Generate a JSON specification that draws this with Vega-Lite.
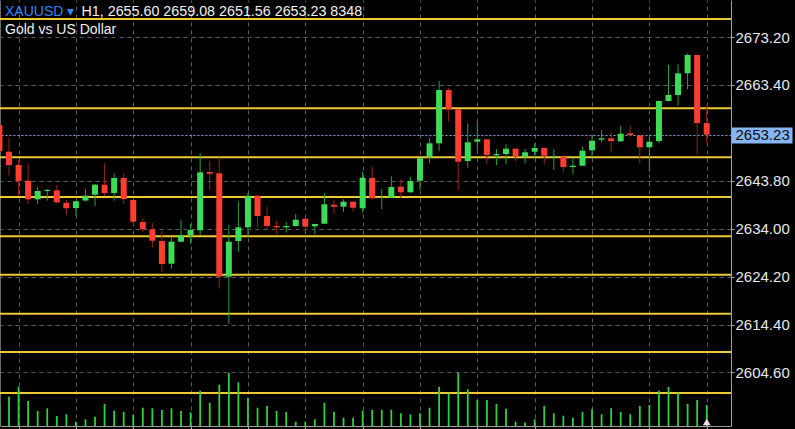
{
  "$schema": "https://vega.github.io/schema/vega-lite/v6.json",
  "width": 731,
  "height": 426,
  "autosize": {"type": "none"},
  "padding": {"left": 0, "top": 0, "right": 64, "bottom": 3},
  "background": "#000000",
  "config": {
    "view": {"stroke": null},
    "axis": {"labelFont": "Liberation Sans", "titleFont": "Liberation Sans"}
  },
  "title": {
    "text": "XAUUSD ▾",
    "subtitle": "Gold vs US Dollar",
    "anchor": "start",
    "frame": "group",
    "orient": "top",
    "font": "Liberation Sans",
    "fontSize": 14,
    "fontWeight": "normal",
    "color": "#2f86ff",
    "subtitleFont": "Liberation Sans",
    "subtitleFontSize": 14,
    "subtitleColor": "#f2f2f2",
    "subtitlePadding": 4,
    "offset": -37,
    "dx": 5
  },
  "datasets": {
    "levels": [
      {"p": 2676.88}, {"p": 2658.62}, {"p": 2648.60}, {"p": 2640.48}, {"p": 2632.44},
      {"p": 2624.59}, {"p": 2616.60}, {"p": 2608.77}, {"p": 2600.38}
    ],
    "candles": [
      {"i": 0, "o": 2655.20, "h": 2655.41, "l": 2649.07, "c": 2649.89, "v": 9000},
      {"i": 1, "o": 2649.74, "h": 2652.61, "l": 2644.98, "c": 2647.02, "v": 11650},
      {"i": 2, "o": 2647.02, "h": 2648.05, "l": 2640.89, "c": 2643.75, "v": 15620},
      {"i": 3, "o": 2643.81, "h": 2647.37, "l": 2639.05, "c": 2640.01, "v": 9940},
      {"i": 4, "o": 2640.01, "h": 2642.59, "l": 2639.05, "c": 2641.71, "v": 5960},
      {"i": 5, "o": 2641.71, "h": 2642.18, "l": 2639.72, "c": 2641.91, "v": 7040},
      {"i": 6, "o": 2641.85, "h": 2642.93, "l": 2639.19, "c": 2639.40, "v": 3980},
      {"i": 7, "o": 2639.31, "h": 2639.87, "l": 2636.80, "c": 2638.17, "v": 4650},
      {"i": 8, "o": 2638.23, "h": 2639.66, "l": 2636.59, "c": 2639.60, "v": 1710},
      {"i": 9, "o": 2639.76, "h": 2642.18, "l": 2639.56, "c": 2640.75, "v": 2660},
      {"i": 10, "o": 2640.95, "h": 2643.14, "l": 2638.64, "c": 2643.00, "v": 3700},
      {"i": 11, "o": 2643.00, "h": 2647.37, "l": 2640.75, "c": 2641.30, "v": 8750},
      {"i": 12, "o": 2641.30, "h": 2645.33, "l": 2639.72, "c": 2644.37, "v": 6080},
      {"i": 13, "o": 2644.37, "h": 2645.33, "l": 2639.05, "c": 2640.07, "v": 5570},
      {"i": 14, "o": 2639.87, "h": 2640.07, "l": 2634.55, "c": 2635.43, "v": 4490},
      {"i": 15, "o": 2635.37, "h": 2636.12, "l": 2633.38, "c": 2633.87, "v": 7270},
      {"i": 16, "o": 2633.87, "h": 2635.22, "l": 2630.19, "c": 2631.54, "v": 7040},
      {"i": 17, "o": 2631.48, "h": 2633.59, "l": 2625.20, "c": 2626.78, "v": 6360},
      {"i": 18, "o": 2626.84, "h": 2632.36, "l": 2625.82, "c": 2631.34, "v": 7040},
      {"i": 19, "o": 2631.34, "h": 2635.78, "l": 2631.28, "c": 2632.71, "v": 5960},
      {"i": 20, "o": 2632.71, "h": 2634.96, "l": 2630.87, "c": 2633.73, "v": 5450},
      {"i": 21, "o": 2633.67, "h": 2649.42, "l": 2632.71, "c": 2645.53, "v": 14030},
      {"i": 22, "o": 2645.59, "h": 2647.84, "l": 2641.91, "c": 2645.24, "v": 9260},
      {"i": 23, "o": 2645.33, "h": 2648.60, "l": 2621.81, "c": 2624.18, "v": 16420},
      {"i": 24, "o": 2624.18, "h": 2634.75, "l": 2614.51, "c": 2631.34, "v": 21070},
      {"i": 25, "o": 2631.48, "h": 2639.52, "l": 2629.29, "c": 2634.28, "v": 17370},
      {"i": 26, "o": 2634.28, "h": 2641.36, "l": 2632.36, "c": 2640.75, "v": 11250},
      {"i": 27, "o": 2640.75, "h": 2640.89, "l": 2634.28, "c": 2636.59, "v": 7270},
      {"i": 28, "o": 2636.59, "h": 2638.50, "l": 2633.73, "c": 2634.55, "v": 7950},
      {"i": 29, "o": 2634.55, "h": 2635.57, "l": 2632.91, "c": 2634.28, "v": 5960},
      {"i": 30, "o": 2634.28, "h": 2635.43, "l": 2633.18, "c": 2634.55, "v": 5570},
      {"i": 31, "o": 2634.55, "h": 2637.00, "l": 2634.45, "c": 2635.84, "v": 1710},
      {"i": 32, "o": 2636.04, "h": 2636.19, "l": 2633.38, "c": 2634.41, "v": 1710},
      {"i": 33, "o": 2634.49, "h": 2635.06, "l": 2632.85, "c": 2634.96, "v": 2660},
      {"i": 34, "o": 2635.02, "h": 2641.24, "l": 2634.96, "c": 2638.99, "v": 9260},
      {"i": 35, "o": 2638.90, "h": 2639.87, "l": 2637.00, "c": 2638.50, "v": 5570},
      {"i": 36, "o": 2638.50, "h": 2640.01, "l": 2637.47, "c": 2639.52, "v": 3300},
      {"i": 37, "o": 2639.52, "h": 2639.66, "l": 2637.47, "c": 2638.29, "v": 3300},
      {"i": 38, "o": 2638.17, "h": 2645.65, "l": 2637.15, "c": 2644.43, "v": 6080},
      {"i": 39, "o": 2644.37, "h": 2646.82, "l": 2639.97, "c": 2640.21, "v": 6480},
      {"i": 40, "o": 2640.28, "h": 2642.12, "l": 2638.03, "c": 2640.38, "v": 6480},
      {"i": 41, "o": 2640.34, "h": 2644.77, "l": 2640.28, "c": 2642.52, "v": 6480},
      {"i": 42, "o": 2642.59, "h": 2644.10, "l": 2640.21, "c": 2641.44, "v": 5050},
      {"i": 43, "o": 2641.44, "h": 2644.63, "l": 2641.40, "c": 2643.75, "v": 4650},
      {"i": 44, "o": 2643.81, "h": 2648.46, "l": 2641.91, "c": 2648.39, "v": 5050},
      {"i": 45, "o": 2648.60, "h": 2652.48, "l": 2647.37, "c": 2651.46, "v": 7270},
      {"i": 46, "o": 2651.46, "h": 2664.20, "l": 2649.89, "c": 2662.36, "v": 15500},
      {"i": 47, "o": 2662.36, "h": 2662.83, "l": 2655.88, "c": 2658.41, "v": 13000},
      {"i": 48, "o": 2658.41, "h": 2658.47, "l": 2641.91, "c": 2647.70, "v": 21190},
      {"i": 49, "o": 2647.84, "h": 2655.55, "l": 2646.47, "c": 2651.67, "v": 14590},
      {"i": 50, "o": 2651.79, "h": 2655.88, "l": 2649.89, "c": 2652.28, "v": 10340},
      {"i": 51, "o": 2652.28, "h": 2652.34, "l": 2647.17, "c": 2649.07, "v": 10340},
      {"i": 52, "o": 2649.01, "h": 2650.30, "l": 2647.02, "c": 2649.27, "v": 8750},
      {"i": 53, "o": 2649.27, "h": 2651.32, "l": 2647.17, "c": 2650.36, "v": 6880},
      {"i": 54, "o": 2650.36, "h": 2650.40, "l": 2647.84, "c": 2648.72, "v": 1710},
      {"i": 55, "o": 2648.72, "h": 2650.30, "l": 2647.37, "c": 2649.62, "v": 1470},
      {"i": 56, "o": 2649.74, "h": 2651.46, "l": 2648.60, "c": 2650.50, "v": 2660},
      {"i": 57, "o": 2650.50, "h": 2650.60, "l": 2647.17, "c": 2648.93, "v": 7950},
      {"i": 58, "o": 2648.66, "h": 2650.30, "l": 2646.00, "c": 2648.78, "v": 5050},
      {"i": 59, "o": 2648.72, "h": 2648.76, "l": 2645.53, "c": 2646.61, "v": 4090},
      {"i": 60, "o": 2646.61, "h": 2648.39, "l": 2645.12, "c": 2646.88, "v": 3300},
      {"i": 61, "o": 2646.88, "h": 2650.77, "l": 2646.82, "c": 2649.95, "v": 5570},
      {"i": 62, "o": 2650.03, "h": 2653.02, "l": 2648.72, "c": 2651.99, "v": 6640},
      {"i": 63, "o": 2652.20, "h": 2654.18, "l": 2651.67, "c": 2652.48, "v": 4650},
      {"i": 64, "o": 2652.48, "h": 2653.71, "l": 2649.62, "c": 2651.93, "v": 7040},
      {"i": 65, "o": 2651.87, "h": 2655.06, "l": 2651.83, "c": 2653.42, "v": 5570},
      {"i": 66, "o": 2653.51, "h": 2655.06, "l": 2652.81, "c": 2653.16, "v": 4650},
      {"i": 67, "o": 2653.10, "h": 2653.16, "l": 2647.37, "c": 2650.64, "v": 7950},
      {"i": 68, "o": 2650.64, "h": 2652.81, "l": 2645.65, "c": 2651.79, "v": 8350},
      {"i": 69, "o": 2651.93, "h": 2660.21, "l": 2651.46, "c": 2660.11, "v": 14030},
      {"i": 70, "o": 2660.11, "h": 2667.47, "l": 2660.01, "c": 2661.34, "v": 15500},
      {"i": 71, "o": 2661.34, "h": 2667.62, "l": 2659.15, "c": 2665.78, "v": 13240},
      {"i": 72, "o": 2665.78, "h": 2669.87, "l": 2662.50, "c": 2669.52, "v": 8750},
      {"i": 73, "o": 2669.52, "h": 2669.62, "l": 2649.27, "c": 2655.60, "v": 10340},
      {"i": 74, "o": 2655.60, "h": 2659.08, "l": 2651.56, "c": 2653.23, "v": 8348}
    ]
  },
  "layer": [
    {
      "layer": [
        {
          "data": {"name": "levels"},
          "mark": {"type": "rule", "stroke": "#ecc935", "strokeWidth": 2},
          "encoding": {
            "y": {"field": "p", "type": "quantitative",
                  "scale": {"domain": [2593.65, 2680.77], "nice": false, "zero": false}}
          }
        },
        {
          "data": {"name": "candles"},
          "mark": {"type": "rule", "strokeWidth": 1, "clip": true},
          "encoding": {
            "x": {"field": "i", "type": "quantitative",
                  "scale": {"domain": [0.0586, 76.54], "nice": false, "zero": false, "padding": 0},
                  "axis": {"orient": "top", "values": [2, 8, 14, 20, 26, 32, 38, 44, 50, 56, 62, 68, 74],
                           "labels": false, "ticks": false, "domain": false,
                           "grid": true, "gridColor": "#5c5c5c", "gridDash": [4, 4], "gridWidth": 1,
                           "title": "H1, 2655.60 2659.08 2651.56 2653.23 8348",
                           "titleColor": "#f2f2f2", "titleFont": "Liberation Sans", "titleFontSize": 14.3,
                           "titleFontWeight": "normal", "titleX": 81, "titleY": 15.7,
                           "titleAlign": "left", "titleBaseline": "alphabetic", "titleAngle": 0}},
            "y": {"field": "l", "type": "quantitative",
                  "scale": {"domain": [2593.65, 2680.77], "nice": false, "zero": false},
                  "axis": {
                    "orient": "right",
                    "values": [2604.6, 2614.4, 2624.2, 2634.0, 2643.8, 2653.23, 2663.4, 2673.2],
                    "format": ".2f",
                    "title": null,
                    "domain": true, "domainColor": "#a0a0a0", "domainWidth": 1,
                    "grid": true,
                    "gridColor": {"condition": {"test": "datum.value === 2653.23", "value": "#7aa8ea"}, "value": "#5c5c5c"},
                    "gridDash": {"condition": {"test": "datum.value === 2653.23", "value": [2, 2]}, "value": [4, 4]},
                    "gridWidth": 1,
                    "ticks": true,
                    "tickColor": {"condition": {"test": "datum.value === 2653.23", "value": "#86b6f7"}, "value": "#a0a0a0"},
                    "tickSize": {"condition": {"test": "datum.value === 2653.23", "value": 61}, "value": 3},
                    "tickWidth": {"condition": {"test": "datum.value === 2653.23", "value": 16}, "value": 1},
                    "labelColor": {"condition": {"test": "datum.value === 2653.23", "value": "#0a0a0a"}, "value": "#e8e8e8"},
                    "labelPadding": {"condition": {"test": "datum.value === 2653.23", "value": -57}, "value": 1},
                    "labelFont": "Liberation Sans",
                    "labelFontSize": 15,
                    "labelBaseline": "middle",
                    "labelOverlap": false,
                    "labelBound": false,
                    "labelFlush": false
                  }},
            "y2": {"field": "h"},
            "color": {"condition": {"test": "datum.c >= datum.o", "value": "#22a532"}, "value": "#9c2018"}
          }
        },
        {
          "data": {"name": "candles"},
          "mark": {"type": "bar", "orient": "vertical", "width": 6, "clip": true},
          "encoding": {
            "x": {"field": "i", "type": "quantitative"},
            "y": {"field": "o", "type": "quantitative"},
            "y2": {"field": "c"},
            "color": {"condition": {"test": "datum.c >= datum.o", "value": "#3ddc58"}, "value": "#ff3d31"}
          }
        }
      ]
    },
    {
      "layer": [
        {
          "data": {"name": "candles"},
          "mark": {"type": "bar", "orient": "vertical", "width": 1.8, "color": "#2fd23e", "clip": true},
          "encoding": {
            "x": {"field": "i", "type": "quantitative",
                  "axis": {"orient": "bottom", "values": [2, 8, 14, 20, 26, 32, 38, 44, 50, 56, 62, 68, 74],
                           "labels": false, "ticks": true, "tickSize": 3, "tickColor": "#a0a0a0",
                           "grid": false, "domain": true, "domainColor": "#a0a0a0", "title": null}},
            "y": {"field": "v", "type": "quantitative",
                  "scale": {"domain": [0, 169300], "nice": false},
                  "axis": {"orient": "left", "labels": false, "ticks": false, "grid": false,
                           "domain": true, "domainColor": "#6a6a6a", "title": null}}
          }
        },
        {
          "data": {"name": "candles"},
          "transform": [{"filter": "datum.i == 74"}],
          "mark": {"type": "point", "shape": "triangle-up", "filled": true, "size": 60, "color": "#e6e6e6", "opacity": 1, "yOffset": -4},
          "encoding": {
            "x": {"field": "i", "type": "quantitative"},
            "y": {"datum": 0, "type": "quantitative"}
          }
        }
      ]
    }
  ],
  "resolve": {"scale": {"y": "independent"}, "axis": {"x": "independent", "y": "independent"}}
}
